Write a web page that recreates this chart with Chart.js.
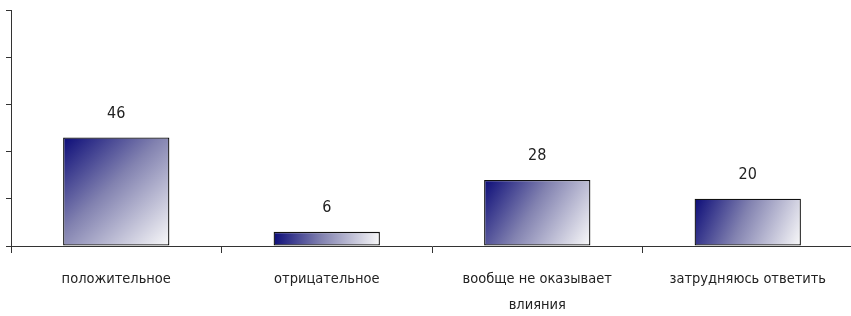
<!DOCTYPE html>
<html>
<head>
<meta charset="utf-8">
<script src="https://cdn.jsdelivr.net/npm/chart.js@4.4.1/dist/chart.umd.min.js"></script>
<style>
    html, body { margin: 0; padding: 0; background: #fff; overflow: hidden; }
    #wrap { width: 853px; height: 316px; }
</style>
</head>
<body>
<div id="wrap"><canvas id="chart"></canvas></div>
<script>
var categories = ["положительное", "отрицательное", ["вообще не оказывает", "влияния"], "затрудняюсь ответить"]
var values = [46, 6, 28, 20]
var yTicks = [0, 20, 40, 60, 80, 100]

var FONT = "'Liberation Sans Narrow', 'DejaVu Sans Condensed', 'Liberation Sans', Arial, sans-serif"

function barFill(ctx) {
    var chart = ctx.chart
    var x = chart.scales.x, y = chart.scales.y
    if (!x || !y || ctx.dataIndex == null) return "#5a5a9a"
    var cx = x.getPixelForValue(ctx.dataIndex)
    var half = x.width / categories.length * 0.505 / 2
    var top = y.getPixelForValue(values[ctx.dataIndex])
    var bottom = y.getPixelForValue(0)
    if (![cx, half, top, bottom].every(isFinite) || half <= 0) return "#5a5a9a"
    var g = chart.ctx.createLinearGradient(cx - half, top, cx + half, bottom)
    g.addColorStop(0, "#0c0c78")
    g.addColorStop(0.45, "#8282b0")
    g.addColorStop(1, "#fafafa")
    return g
}

var valueLabels = {
    id: "valueLabels",
    afterDatasetsDraw: function (chart) {
        var c = chart.ctx
        c.save()
        c.font = "16px " + FONT
        c.fillStyle = "#222"
        c.textAlign = "center"
        c.textBaseline = "bottom"
        chart.getDatasetMeta(0).data.forEach(function (bar, i) {
            c.fillText(values[i], bar.x, bar.y - 16)
        })
        c.restore()
    }
}

new Chart(document.getElementById("chart"), {
    type: "bar",
    data: {
        labels: categories,
        datasets: [{
            data: values,
            backgroundColor: barFill,
            borderColor: "#111",
            borderWidth: 1.3,
            borderSkipped: false,
            categoryPercentage: 1,
            barPercentage: 0.505
        }]
    },
    options: {
        responsive: true,
        maintainAspectRatio: false,
        animation: false,
        events: [],
        layout: { padding: { top: 10, left: 0, right: 0, bottom: 0 } },
        plugins: { legend: { display: false }, tooltip: { enabled: false } },
        scales: {
            x: {
                grid: { display: true, offset: true, drawOnChartArea: false, drawTicks: true, tickLength: 7, color: "#333" },
                border: { display: true, color: "#333", width: 1 },
                ticks: {
                    color: "#222",
                    font: { family: FONT, size: 14.5, lineHeight: 1.75 },
                    padding: 14,
                    maxRotation: 0,
                    autoSkip: false
                },
                afterFit: function (s) { s.height = 70 }
            },
            y: {
                min: 0,
                max: 100,
                afterBuildTicks: function (s) { s.ticks = yTicks.map(function (v) { return { value: v } }) },
                grid: { display: true, drawOnChartArea: false, drawTicks: true, tickLength: 5, color: "#333" },
                border: { display: true, color: "#333", width: 1 },
                ticks: { display: false },
                afterFit: function (s) { s.width = 11 }
            }
        }
    },
    plugins: [valueLabels]
})
</script>
</body>
</html>
